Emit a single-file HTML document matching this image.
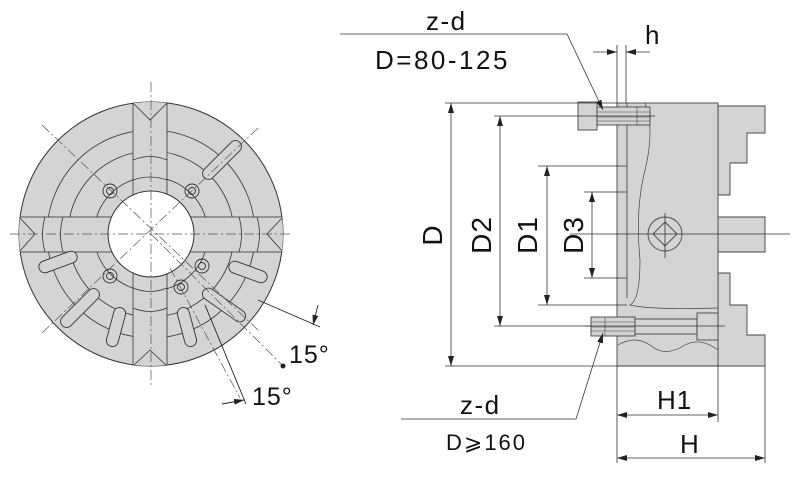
<!DOCTYPE html>
<html><head><meta charset="utf-8"><style>html,body{margin:0;padding:0;background:#fff}svg{display:block}</style></head>
<body>
<svg width="800" height="480" viewBox="0 0 800 480" xmlns="http://www.w3.org/2000/svg" font-family="Liberation Sans, Arial, sans-serif">
<defs>
<marker id="a" markerWidth="10" markerHeight="6" refX="10" refY="3" orient="auto" markerUnits="userSpaceOnUse"><path d="M0,0 L10,3 L0,6 z" fill="#222"/></marker>
<clipPath id="c"><circle cx="151" cy="234" r="132"/></clipPath>
</defs>
<!-- LEFT VIEW -->
<circle cx="151" cy="234" r="132" fill="#d4d4d4" stroke="#333" stroke-width="1"/>
<g clip-path="url(#c)" fill="none" stroke="#333" stroke-width="0.8">
<circle cx="151" cy="234" r="104"/><circle cx="151" cy="234" r="83"/><circle cx="151" cy="234" r="57"/>
<rect x="133" y="100" width="34" height="270" fill="#d4d4d4"/>
<rect x="15" y="217" width="272" height="35" fill="#d4d4d4"/>
<path d="M133,180 Q150,174 167,180 M133,160 Q150,153 167,160 M133,288 Q150,295 167,288 M133,308 Q150,315 167,308"/>
<path d="M63,217 Q58,234 63,252 M45,217 Q40,234 45,252 M239,217 Q244,234 239,252 M257,217 Q262,234 257,252"/>
<path d="M133,103 L150,120 L167,103 M133,366 L150,350 L167,366 M19,217 L35,234 L19,252 M283,217 L267,234 L283,252"/>
</g>
<circle cx="151" cy="234" r="43" fill="#fff" stroke="#333"/>
<g fill="none" stroke="#333" stroke-width="0.9">
<circle cx="110" cy="191" r="7"/><circle cx="110" cy="191" r="3.5"/>
<circle cx="192" cy="191" r="7"/><circle cx="192" cy="191" r="3.5"/>
<circle cx="110" cy="276" r="7"/><circle cx="110" cy="276" r="3.5"/>
<circle cx="202" cy="266" r="7"/><circle cx="202" cy="266" r="3.5"/>
<circle cx="181" cy="287" r="7"/><circle cx="181" cy="287" r="3.5"/>
<rect x="-25" y="-6" width="50" height="12" rx="6" transform="translate(222,160) rotate(-45)" fill="#d4d4d4"/>
<rect x="-20" y="-6" width="40" height="12" rx="6" transform="translate(58,262) rotate(-20)" fill="#d4d4d4"/>
<rect x="-20" y="-6" width="40" height="12" rx="6" transform="translate(248,272) rotate(20)" fill="#d4d4d4"/>
<rect x="-20" y="-6" width="40" height="12" rx="6" transform="translate(116,327) rotate(-75)" fill="#d4d4d4"/>
<rect x="-20" y="-6" width="40" height="12" rx="6" transform="translate(187,327) rotate(75)" fill="#d4d4d4"/>
<rect x="-25" y="-6" width="50" height="12" rx="6" transform="translate(80,308) rotate(-45)" fill="#d4d4d4"/>
<rect x="-25" y="-6" width="50" height="12" rx="6" transform="translate(224,305) rotate(35)" fill="#d4d4d4"/>
</g>
<g stroke="#555" stroke-width="0.7" stroke-dasharray="10,3,2,3" fill="none">
<line x1="151" y1="82" x2="151" y2="388"/><line x1="10" y1="234" x2="293" y2="234"/>
<line x1="42" y1="125" x2="258" y2="330"/><line x1="258" y1="128" x2="42" y2="333"/>
<line x1="151" y1="234" x2="283" y2="366"/><line x1="170" y1="268" x2="240" y2="398"/>
</g>
<g stroke="#222" stroke-width="0.9" fill="none">
<line x1="258" y1="300" x2="320" y2="327"/><line x1="205" y1="305" x2="246" y2="404"/>
<line x1="318" y1="305" x2="313" y2="325" marker-end="url(#a)"/>
<line x1="222" y1="404" x2="244" y2="400" marker-end="url(#a)"/>
</g>
<circle cx="283" cy="366" r="2.5" fill="#222"/>
<text x="289" y="363" font-size="25" letter-spacing="1" fill="#111">15°</text>
<text x="252" y="405" font-size="25" letter-spacing="1" fill="#111">15°</text>
<!-- RIGHT VIEW -->
<g stroke="#444" stroke-width="0.9">
<path d="M718,106 H765 V133 H747 V163 H730 V195 H718 Z" fill="#d4d4d4"/>
<path d="M718,273 H730 V305 H747 V335 H765 V366 H718 Z" fill="#d4d4d4"/>
<path d="M687,217 H765 V252 H687 V246 H673 V223 H687 Z" fill="#d4d4d4"/>
<rect x="617" y="103" width="101" height="263" fill="#d4d4d4"/>
<line x1="627" y1="103" x2="627" y2="298" fill="none"/>
<path d="M645,103 Q655,130 645,170 Q635,210 640,260 Q640,300 630,305 Q650,310 718,308" fill="none" stroke-width="0.7"/>
<path d="M618,345 Q635,335 650,345 Q665,358 685,345 Q700,337 718,350" fill="none" stroke-width="0.7"/>
<circle cx="665" cy="234" r="17" fill="#d4d4d4"/>
<path d="M665,222 L677,234 L665,246 L653,234 Z" fill="none"/>
<rect x="578" y="102" width="19" height="28" fill="#d4d4d4"/>
<rect x="597" y="107" width="53" height="18" fill="#d4d4d4"/>
<path d="M597,112 H650 M597,117 H650 M597,121 H650 M637,107 V125" fill="none" stroke-width="0.6"/>
<rect x="591" y="317" width="44" height="19" fill="#d4d4d4"/>
<rect x="635" y="319" width="62" height="15" fill="#d4d4d4"/>
<rect x="697" y="313" width="21" height="27" fill="#d4d4d4"/>
<path d="M591,322 H635 M591,327 H635 M591,331 H635 M605,317 V336" fill="none" stroke-width="0.6"/>
</g>
<g stroke="#333" stroke-width="0.8" fill="none">
<line x1="570" y1="234" x2="790" y2="234"/><line x1="665" y1="213" x2="665" y2="258"/>
<line x1="597" y1="116" x2="655" y2="116"/><line x1="585" y1="326" x2="725" y2="326"/>
<line x1="445" y1="103" x2="617" y2="103"/><line x1="445" y1="366" x2="718" y2="366"/>
<line x1="494" y1="116" x2="597" y2="116"/><line x1="494" y1="326" x2="591" y2="326"/>
<line x1="538" y1="166" x2="627" y2="166"/><line x1="538" y1="305" x2="627" y2="305"/>
<line x1="584" y1="192" x2="627" y2="192"/><line x1="584" y1="278" x2="627" y2="278"/>
<line x1="617" y1="45" x2="617" y2="103"/><line x1="626" y1="45" x2="626" y2="103"/>
<line x1="617" y1="366" x2="617" y2="463"/><line x1="718" y1="366" x2="718" y2="422"/><line x1="765" y1="366" x2="765" y2="463"/>
<line x1="451" y1="235" x2="451" y2="103" marker-end="url(#a)"/><line x1="451" y1="235" x2="451" y2="366" marker-end="url(#a)"/>
<line x1="500" y1="220" x2="500" y2="116" marker-end="url(#a)"/><line x1="500" y1="220" x2="500" y2="326" marker-end="url(#a)"/>
<line x1="547" y1="235" x2="547" y2="166" marker-end="url(#a)"/><line x1="547" y1="235" x2="547" y2="305" marker-end="url(#a)"/>
<line x1="592" y1="235" x2="592" y2="192" marker-end="url(#a)"/><line x1="592" y1="235" x2="592" y2="278" marker-end="url(#a)"/>
<line x1="593" y1="52" x2="617" y2="52" marker-end="url(#a)"/><line x1="650" y1="52" x2="626" y2="52" marker-end="url(#a)"/>
<line x1="668" y1="415" x2="617" y2="415" marker-end="url(#a)"/><line x1="668" y1="415" x2="718" y2="415" marker-end="url(#a)"/>
<line x1="690" y1="458" x2="617" y2="458" marker-end="url(#a)"/><line x1="690" y1="458" x2="765" y2="458" marker-end="url(#a)"/>
<polyline points="340,34 567,34 603,110" marker-end="url(#a)"/>
<polyline points="401,419 576,419 603,333" marker-end="url(#a)"/>
</g>
<g fill="#111">
<text x="426" y="30" font-size="26" letter-spacing="1.5">z-d</text>
<text x="375" y="69" font-size="26" letter-spacing="2.5">D=80-125</text>
<text x="645" y="44" font-size="26">h</text>
<text x="460" y="414" font-size="26" letter-spacing="1.5">z-d</text>
<text x="446" y="450" font-size="22" letter-spacing="2">D⩾160</text>
<text x="657" y="409" font-size="26" letter-spacing="1">H1</text>
<text x="680" y="453" font-size="26">H</text>
<g font-size="28" letter-spacing="1">
<text transform="translate(442,235) rotate(-90)" text-anchor="middle">D</text>
<text transform="translate(491,235) rotate(-90)" text-anchor="middle">D2</text>
<text transform="translate(537,235) rotate(-90)" text-anchor="middle">D1</text>
<text transform="translate(583,235) rotate(-90)" text-anchor="middle">D3</text>
</g>
</g>
</svg>
</body></html>
